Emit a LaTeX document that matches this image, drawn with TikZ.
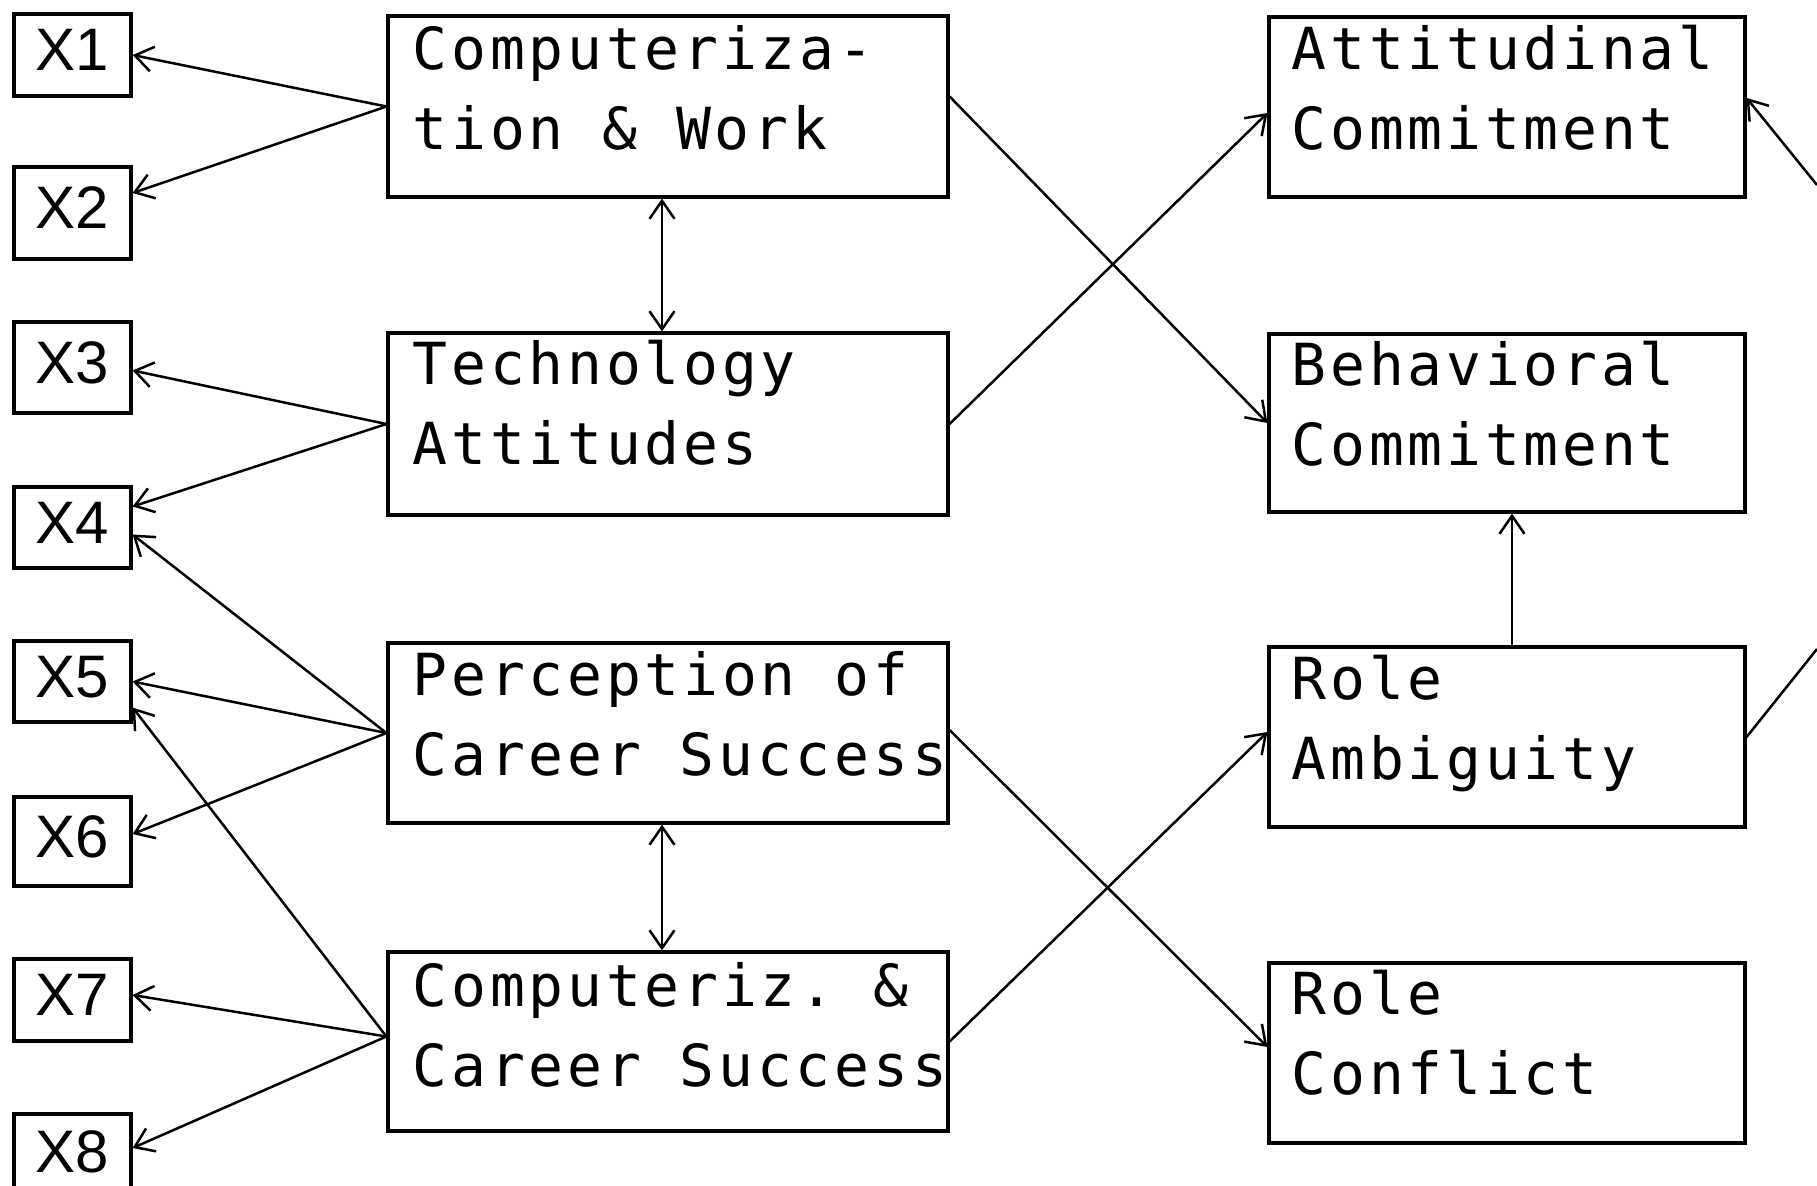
\documentclass[tikz,border=0pt]{standalone}
\usepackage{fontspec}
\newfontfamily\plotfont[LetterSpace=6.5]{DejaVu Sans Mono}
\newfontfamily\labfont{Liberation Sans}
\usetikzlibrary{arrows.meta}
\newcommand\tsp{\hspace*{19.4pt}}
\begin{document}
\begin{tikzpicture}[x=0.5pt,y=-0.5pt,
  box/.style={draw,line width=1.6pt,rectangle,inner sep=0pt},
  midbox/.style={box,minimum width=280pt},
  rbox/.style={box,minimum width=238pt},
  xbox/.style={box,minimum width=58.5pt,font=\labfont\fontsize{30}{30}\selectfont,text depth=5pt},
  txt/.style={anchor=base west,inner sep=0pt,text width=290pt,align=left,font=\plotfont\fontsize{29}{40}\selectfont},
  tip/.tip={Straight Barb[length=9pt,width=12.5pt]},
  conn/.style={line width=1.25pt,-tip},
  dconn/.style={line width=1.25pt,tip-tip}
]
\useasboundingbox (0,0) rectangle (1817,1185);
\clip (0,0) rectangle (1817,1185);

% middle boxes
\node[midbox,minimum height=90.5pt] (c1) at (668,106.5) {};
\node[midbox,minimum height=91pt]   (c2) at (668,424) {};
\node[midbox,minimum height=90pt]   (c3) at (668,733) {};
\node[midbox,minimum height=89.5pt] (c4) at (668,1041.5) {};
% right boxes
\node[rbox,minimum height=90pt] (att) at (1507,107) {};
\node[rbox,minimum height=89pt] (beh) at (1507,423) {};
\node[rbox,minimum height=90pt] (ra)  at (1507,737) {};
\node[rbox,minimum height=90pt] (rc)  at (1507,1053) {};

% texts
\node[txt] (t1) at ([xshift=13pt,yshift=-27.5pt]c1.north west) {Computeriza-\\tion\tsp\&\tsp Work};
\node[txt] (t2) at ([xshift=13pt,yshift=-26.5pt]c2.north west) {Technology\\Attitudes};
\node[txt] (t3) at ([xshift=13pt,yshift=-27pt]c3.north west) {Perception\tsp of\\Career\tsp Success};
\node[txt] (t4) at ([xshift=13pt,yshift=-28pt]c4.north west) {Computeriz.\tsp\&\\Career\tsp Success};
\node[txt] (t5) at ([xshift=12pt,yshift=-27pt]att.north west) {Attitudinal\\Commitment};
\node[txt] (t6) at ([xshift=12pt,yshift=-26.5pt]beh.north west) {Behavioral\\Commitment};
\node[txt] (t7) at ([xshift=12pt,yshift=-27pt]ra.north west) {Role\\Ambiguity};
\node[txt] (t8) at ([xshift=12pt,yshift=-26.5pt]rc.north west) {Role\\Conflict};

% X boxes
\node[xbox,minimum height=41pt]   (x1) at (72.5,55) {X1};
\node[xbox,minimum height=46pt]   (x2) at (72.5,213) {X2};
\node[xbox,minimum height=45.5pt] (x3) at (72.5,367.5) {X3};
\node[xbox,minimum height=40.5pt] (x4) at (72.5,527.5) {X4};
\node[xbox,minimum height=40.5pt] (x5) at (72.5,681.5) {X5};
\node[xbox,minimum height=44.5pt] (x6) at (72.5,841.5) {X6};
\node[xbox,minimum height=41pt]   (x7) at (72.5,1000) {X7};
\node[xbox,minimum height=43pt]   (x8) at (72.5,1157) {X8};

% measurement arrows
\draw[conn] (c1.west) -- (x1.east);
\draw[conn] (c1.west) -- ([yshift=10pt]x2.east);
\draw[conn] (c2.west) -- ([yshift=-1.5pt]x3.east);
\draw[conn] (c2.west) -- ([yshift=10.5pt]x4.east);
\draw[conn] (c3.west) -- ([yshift=-3.5pt]x4.east);
\draw[conn] (c3.west) -- (x5.east);
\draw[conn] (c3.west) -- ([yshift=3.75pt]x6.east);
\draw[conn] ([yshift=2.5pt]c4.west) -- ([yshift=-13pt]x5.east);
\draw[conn] ([yshift=2.5pt]c4.west) -- ([yshift=2.5pt]x7.east);
\draw[conn] ([yshift=2.5pt]c4.west) -- ([yshift=4.5pt]x8.east);

% correlations
\draw[dconn] ([xshift=-3pt]c1.south) -- ([xshift=-3pt]c2.north);
\draw[dconn] ([xshift=-3pt]c3.south) -- ([xshift=-3pt]c4.north);

% structural paths
\draw[conn] ([yshift=5pt]c1.east) -- (beh.west);
\draw[conn] (c2.east) -- ([yshift=-3pt]att.west);
\draw[conn] ([yshift=1.5pt]c3.east) -- ([yshift=3pt]rc.west);
\draw[conn] (c4.east) -- ([yshift=2.5pt]ra.west);
\draw[conn] ([xshift=2.5pt]ra.north) -- ([xshift=2.5pt]beh.south);

% paths leaving the picture on the right
\coordinate (edgeA) at (1817,185);
\coordinate (edgeB) at (1817,649);
\draw[conn] (edgeA) -- ([yshift=4.5pt]att.east);
\draw[line width=1.25pt] (ra.east) -- (edgeB);
\end{tikzpicture}
\end{document}
